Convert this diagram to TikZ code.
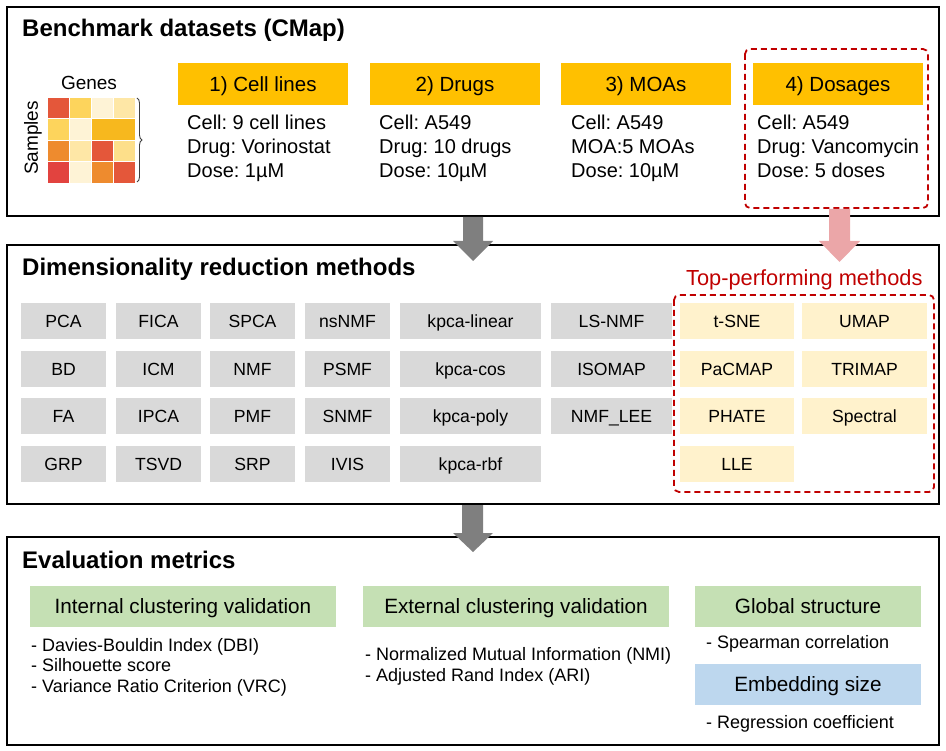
\documentclass[tikz,border=0pt]{standalone}
\usepackage{fontspec}
\setmainfont{Liberation Sans}
\usetikzlibrary{decorations.pathreplacing}
\definecolor{hdr}{HTML}{FFC000}
\definecolor{graybox}{HTML}{D9D9D9}
\definecolor{yelbox}{HTML}{FFF2CC}
\definecolor{grnbox}{HTML}{C5E0B4}
\definecolor{blubox}{HTML}{BDD7EE}
\definecolor{redd}{HTML}{C00000}
\definecolor{arrgray}{HTML}{7F7F7F}
\definecolor{arrpink}{HTML}{EBA6A8}
\definecolor{hA}{HTML}{E4573A}
\definecolor{hB}{HTML}{FDD45C}
\definecolor{hC}{HTML}{FEF3D6}
\definecolor{hD}{HTML}{FEE7A6}
\definecolor{hE}{HTML}{F7B81E}
\definecolor{hF}{HTML}{EE8B2E}
\definecolor{hG}{HTML}{FDDF8A}
\definecolor{hH}{HTML}{E2433F}
\newcommand\myfs[2]{\fontsize{#1}{#2}\selectfont\frenchspacing}
\tikzset{
  panel/.style={draw=black, line width=2.5pt, inner sep=0pt, minimum width=932pt},
  ptitle/.style={anchor=base west, inner sep=0pt, font=\myfs{24}{28}\bfseries},
  hdrbox/.style={fill=hdr, inner sep=0pt, minimum width=170pt, minimum height=42pt, text height=14.7pt, text depth=0pt, font=\myfs{20.5}{24}},
  txt/.style={anchor=base west, inner sep=0pt, font=\myfs{20}{24}},
  gbox/.style={fill=graybox, inner sep=0pt, minimum height=36pt, text height=12.6pt, text depth=0pt, font=\myfs{17.6}{20}},
  ybox/.style={fill=yelbox, inner sep=0pt, minimum height=36pt, text height=12.6pt, text depth=0pt, font=\myfs{17.6}{20}},
  mbox/.style={inner sep=0pt, minimum height=41pt, text height=14.7pt, text depth=0pt, font=\myfs{20.7}{24}},
  ltxt/.style={anchor=base west, inner sep=0pt, font=\myfs{18}{21}},
  reddash/.style={draw=redd, line width=1.8pt, dash pattern=on 6pt off 4pt, rounded corners=5pt},
  hcell/.style={draw=white, line width=0.6pt},
}
\begin{document}
\begin{tikzpicture}[x=1pt,y=-1pt]
\useasboundingbox (0,0) rectangle (946,751);

% panels
\node[panel, minimum height=209pt] (p1) at (473,111.5) {};
\node[panel, minimum height=259pt] (p2) at (473,374.5) {};
\node[panel, minimum height=208pt] (p3) at (473,641) {};

\node[ptitle] (t1) at (22,37) {Benchmark datasets (CMap)};
\node[ptitle] (t2) at (22,276) {Dimensionality reduction methods};
\node[ptitle] (t3) at (22,568) {Evaluation metrics};

% heatmap
\filldraw[fill=hA,hcell] (47,97) rectangle (69,118.5);
\filldraw[fill=hB,hcell] (69,97) rectangle (91,118.5);
\filldraw[fill=hC,hcell] (91,97) rectangle (113,118.5);
\filldraw[fill=hD,hcell] (113,97) rectangle (135,118.5);
\filldraw[fill=hB,hcell] (47,118.5) rectangle (69,140);
\filldraw[fill=hC,hcell] (69,118.5) rectangle (91,140);
\filldraw[fill=hE,hcell] (91,118.5) rectangle (135,140);
\filldraw[fill=hF,hcell] (47,140) rectangle (69,161.5);
\filldraw[fill=hD,hcell] (69,140) rectangle (91,161.5);
\filldraw[fill=hA,hcell] (91,140) rectangle (113,161.5);
\filldraw[fill=hG,hcell] (113,140) rectangle (135,161.5);
\filldraw[fill=hH,hcell] (47,161.5) rectangle (69,183);
\filldraw[fill=hC,hcell] (69,161.5) rectangle (91,183);
\filldraw[fill=hF,hcell] (91,161.5) rectangle (113,183);
\filldraw[fill=hA,hcell] (113,161.5) rectangle (135,183);
\node[inner sep=0pt, font=\myfs{19}{22}] (genes) at (89,83) {Genes};
\node[inner sep=0pt, font=\myfs{19}{22}, rotate=90] (samples) at (33,138) {Samples};
\draw[decorate, decoration={brace, amplitude=5pt}, line width=0.9pt, draw=black!75] (137,98) -- (137,182);

% datasets
\node[hdrbox] (h1) at (263,84) {1) Cell lines};
\node[hdrbox] (h2) at (455,84) {2) Drugs};
\node[hdrbox] (h3) at (646,84) {3) MOAs};
\node[hdrbox] (h4) at (838,84) {4) Dosages};
\node[txt] (a1) at (187,130) {Cell: 9 cell lines};
\node[txt] (a2) at (187,154) {Drug: Vorinostat};
\node[txt] (a3) at (187,178) {Dose: 1µM};
\node[txt] (b1) at (379,130) {Cell: A549};
\node[txt] (b2) at (379,154) {Drug: 10 drugs};
\node[txt] (b3) at (379,178) {Dose: 10µM};
\node[txt] (c1) at (571,130) {Cell: A549};
\node[txt] (c2) at (571,154) {MOA:5 MOAs};
\node[txt] (c3) at (571,178) {Dose: 10µM};
\node[txt] (d1) at (757,130) {Cell: A549};
\node[txt] (d2) at (757,154) {Drug: Vancomycin};
\node[txt] (d3) at (757,178) {Dose: 5 doses};
\draw[reddash] (745,49) rectangle (928,208);

% arrows
\fill[arrgray] (463,217) -- (483,217) -- (483,241) -- (493,241) -- (473,261) -- (453,241) -- (463,241) -- cycle;
\fill[arrpink] (829,209) -- (850,209) -- (850,241) -- (860,241) -- (839.5,262) -- (819,241) -- (829,241) -- cycle;
\fill[arrgray] (462,505) -- (483,505) -- (483,533) -- (493,533) -- (473,552) -- (453,533) -- (462,533) -- cycle;

% methods
\node[gbox, minimum width=85pt] (m11) at (63.5,321) {PCA};
\node[gbox, minimum width=85pt] (m12) at (158.5,321) {FICA};
\node[gbox, minimum width=85pt] (m13) at (252.5,321) {SPCA};
\node[gbox, minimum width=85pt] (m14) at (347.5,321) {nsNMF};
\node[gbox, minimum width=141pt] (m15) at (470.5,321) {kpca-linear};
\node[gbox, minimum width=121pt] (m16) at (611.5,321) {LS-NMF};
\node[gbox, minimum width=85pt] (m21) at (63.5,369) {BD};
\node[gbox, minimum width=85pt] (m22) at (158.5,369) {ICM};
\node[gbox, minimum width=85pt] (m23) at (252.5,369) {NMF};
\node[gbox, minimum width=85pt] (m24) at (347.5,369) {PSMF};
\node[gbox, minimum width=141pt] (m25) at (470.5,369) {kpca-cos};
\node[gbox, minimum width=121pt] (m26) at (611.5,369) {ISOMAP};
\node[gbox, minimum width=85pt] (m31) at (63.5,416) {FA};
\node[gbox, minimum width=85pt] (m32) at (158.5,416) {IPCA};
\node[gbox, minimum width=85pt] (m33) at (252.5,416) {PMF};
\node[gbox, minimum width=85pt] (m34) at (347.5,416) {SNMF};
\node[gbox, minimum width=141pt] (m35) at (470.5,416) {kpca-poly};
\node[gbox, minimum width=121pt] (m36) at (611.5,416) {NMF\_LEE};
\node[gbox, minimum width=85pt] (m41) at (63.5,464) {GRP};
\node[gbox, minimum width=85pt] (m42) at (158.5,464) {TSVD};
\node[gbox, minimum width=85pt] (m43) at (252.5,464) {SRP};
\node[gbox, minimum width=85pt] (m44) at (347.5,464) {IVIS};
\node[gbox, minimum width=141pt] (m45) at (470.5,464) {kpca-rbf};

\node[ybox, minimum width=114pt] (y11) at (737,321) {t-SNE};
\node[ybox, minimum width=125pt] (y12) at (864.5,321) {UMAP};
\node[ybox, minimum width=114pt] (y21) at (737,369) {PaCMAP};
\node[ybox, minimum width=125pt] (y22) at (864.5,369) {TRIMAP};
\node[ybox, minimum width=114pt] (y31) at (737,416) {PHATE};
\node[ybox, minimum width=125pt] (y32) at (864.5,416) {Spectral};
\node[ybox, minimum width=114pt] (y41) at (737,464) {LLE};
\draw[reddash] (674,295) rectangle (934,492);
\node[anchor=base west, inner sep=0pt, text=redd, font=\myfs{21.8}{24}] (top) at (686,286) {Top-performing methods};

% metrics
\node[mbox, fill=grnbox, minimum width=306pt] (e1) at (183,606.5) {Internal clustering validation};
\node[mbox, fill=grnbox, minimum width=306pt] (e2) at (516,606.5) {External clustering validation};
\node[mbox, fill=grnbox, minimum width=226pt] (e3) at (808,606.5) {Global structure};
\node[mbox, fill=blubox, minimum width=226pt] (e4) at (808,684.5) {Embedding size};
\node[ltxt] (l1) at (31,651) {- Davies-Bouldin Index (DBI)};
\node[ltxt] (l2) at (31,671.5) {- Silhouette score};
\node[ltxt] (l3) at (31,692) {- Variance Ratio Criterion (VRC)};
\node[ltxt] (l4) at (365,660) {- Normalized Mutual Information (NMI)};
\node[ltxt] (l5) at (365,681) {- Adjusted Rand Index (ARI)};
\node[ltxt] (l6) at (706,648) {- Spearman correlation};
\node[ltxt] (l7) at (706,728) {- Regression coefficient};
\end{tikzpicture}
\end{document}
